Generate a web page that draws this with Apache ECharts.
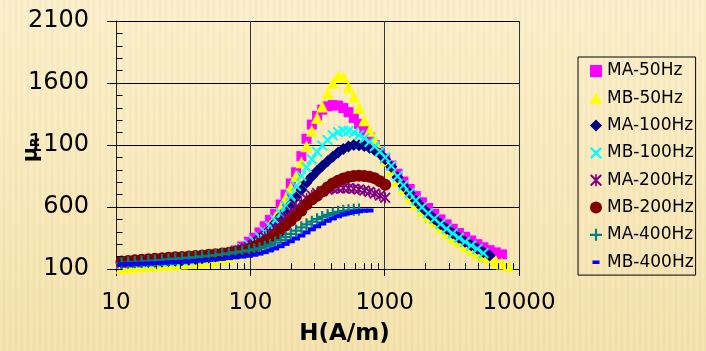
<!DOCTYPE html>
<html>
<head>
<meta charset="utf-8">
<title>Relative permeability vs field strength</title>
<script src="https://cdn.jsdelivr.net/npm/echarts@6.0.0/dist/echarts.min.js"></script>
<style>
  html, body { margin: 0; padding: 0; }
  #chart {
    width: 706px;
    height: 351px;
    background:
      repeating-linear-gradient(90deg,
        rgba(255,255,255,0.10) 0px, rgba(255,255,255,0.10) 2px,
        rgba(150,110,30,0.05) 4px, rgba(255,255,255,0.10) 6px),
      linear-gradient(180deg, #FCEFC9 0%, #F9E9BA 50%, #F4E1A9 100%);
  }
</style>
</head>
<body>
<div id="chart"></div>
<script>
// Field strength H (A/m) of each measuring point
const fieldH = [11, 12.3, 13.8, 15.5, 17.4, 19.5, 22, 24.6, 27.6, 31, 34.8, 39, 43.7, 49, 55, 61.7,
  69.2, 77.6, 87, 97.6, 107, 117, 128, 140, 153, 168, 183, 200, 219, 240, 262, 287, 314, 343,
  376, 411, 450, 492, 538, 589, 644, 705, 771, 843, 922, 1009, 1120, 1245, 1380, 1535, 1705,
  1895, 2105, 2340, 2600, 2890, 3210, 3570, 3965, 4405, 4895, 5440, 6045, 6720, 7465, 8300];

// Relative permeability per sample and frequency
const muMA50 = [130, 133, 137, 140, 143, 147, 151, 155, 160, 165, 170, 176, 183, 190, 200, 212,
  228, 250, 282, 320, 352, 395, 445, 495, 545, 620, 700, 790, 880, 1010, 1150, 1265, 1335, 1385,
  1412, 1422, 1418, 1398, 1365, 1318, 1270, 1215, 1160, 1100, 1045, 990, 935, 868, 805, 745, 688,
  638, 592, 545, 500, 460, 424, 390, 360, 330, 300, 275, 252, 234, 218];
const muMB50 = [110, 113, 117, 121, 124, 128, 132, 136, 140, 144, 148, 152, 157, 163, 171, 182,
  198, 218, 242, 270, 305, 345, 395, 450, 515, 590, 670, 755, 850, 960, 1090, 1215, 1320, 1410,
  1520, 1600, 1655, 1650, 1565, 1490, 1400, 1300, 1215, 1130, 1050, 975, 895, 810, 745, 680, 625,
  570, 525, 480, 435, 395, 355, 318, 285, 255, 228, 205, 185, 165, 145, 125];
const muMA100 = [148, 150, 152, 154, 156, 158, 161, 164, 167, 171, 175, 180, 186, 193, 201, 211,
  224, 240, 262, 285, 312, 343, 378, 420, 470, 525, 570, 620, 680, 740, 795, 845, 890, 930, 968,
  1005, 1040, 1068, 1088, 1100, 1098, 1092, 1078, 1058, 1030, 985, 925, 840, 770, 710, 650, 598,
  550, 506, 463, 425, 388, 352, 320, 292, 263, 235, 208];
const muMB100 = [145, 147, 150, 152, 155, 157, 160, 163, 167, 171, 176, 181, 187, 195, 204, 215,
  228, 246, 268, 295, 325, 360, 400, 445, 495, 550, 610, 690, 770, 850, 920, 985, 1045, 1095, 1140,
  1178, 1203, 1215, 1212, 1200, 1180, 1155, 1125, 1090, 1048, 1000, 932, 848, 776, 713, 652, 598,
  550, 505, 463, 424, 387, 352, 319, 290, 262, 228];
const muMA200 = [150, 153, 157, 161, 165, 169, 173, 177, 181, 185, 189, 194, 199, 205, 212, 220,
  230, 243, 258, 276, 300, 328, 360, 395, 433, 475, 518, 560, 600, 637, 668, 693, 713, 728, 740,
  748, 752, 754, 752, 748, 742, 733, 722, 708, 692, 675];
const muMB200 = [160, 165, 170, 175, 179, 183, 187, 191, 194, 197, 201, 205, 209, 214, 219, 225,
  232, 240, 250, 262, 280, 300, 320, 345, 375, 410, 450, 490, 530, 570, 620, 660, 690, 725, 760,
  790, 812, 830, 842, 850, 852, 850, 844, 832, 808, 780];
const muMA400 = [148, 152, 156, 160, 164, 168, 172, 177, 182, 187, 192, 197, 202, 207, 213, 219,
  226, 234, 242, 250, 258, 267, 280, 295, 313, 333, 357, 383, 410, 436, 460, 482, 502, 520, 536,
  550, 561, 569, 574, 577, 579];
const muMB400 = [138, 140, 142, 144, 146, 148, 150, 153, 156, 159, 162, 165, 169, 173, 177, 182,
  188, 194, 200, 207, 215, 224, 236, 250, 266, 284, 303, 324, 346, 370, 395, 420, 444, 467, 489,
  508, 525, 540, 551, 560, 566, 570, 572];

const seriesNames = ['MA-50Hz', 'MB-50Hz', 'MA-100Hz', 'MB-100Hz', 'MA-200Hz', 'MB-200Hz', 'MA-400Hz', 'MB-400Hz'];
const seriesValues = [muMA50, muMB50, muMA100, muMB100, muMA200, muMB200, muMA400, muMB400];

// Axis ticks
const xMajorTicks = [10, 100, 1000, 10000];
const xMinorTicks = [20, 30, 40, 50, 60, 70, 80, 90, 200, 300, 400, 500, 600, 700, 800, 900,
  2000, 3000, 4000, 5000, 6000, 7000, 8000, 9000];
const yTickLabels = [100, 600, 1100, 1600, 2100];

// Marker shapes (filled outlines so they stay crisp at small sizes)
const SYM_CROSS = 'path://M0,1.3L1.3,0L5,3.7L8.7,0L10,1.3L6.3,5L10,8.7L8.7,10L5,6.3L1.3,10L0,8.7L3.7,5Z';
const SYM_STAR = 'path://M0,1.2L1.2,0L5,3.8L8.8,0L10,1.2L6.2,5L10,8.8L8.8,10L5,6.2L1.2,10L0,8.8L3.8,5Z' +
  'M4.3,0L5.7,0L5.7,10L4.3,10Z';
const SYM_PLUS = 'path://M4.1,0L5.9,0L5.9,4.1L10,4.1L10,5.9L5.9,5.9L5.9,10L4.1,10L4.1,5.9L0,5.9L0,4.1L4.1,4.1Z';
const SYM_DASH_ICON = 'path://M0,0L0.01,0.01L0,0.01Z M12,12L11.99,11.99L12,11.99Z M2.5,4.5L9.5,4.5L9.5,8L2.5,8Z';

const styles = [
  { color: '#FF00FF', symbol: 'rect', size: 10 },
  { color: '#FFFF00', symbol: 'triangle', size: 12 },
  { color: '#000080', symbol: 'diamond', size: 12 },
  { color: '#00FFFF', symbol: SYM_CROSS, size: 11 },
  { color: '#800080', symbol: SYM_STAR, size: 11 },
  { color: '#800000', symbol: 'circle', size: 12 },
  { color: '#008080', symbol: SYM_PLUS, size: 12 },
  { color: '#0000FF', symbol: 'rect', size: [8, 4] }
];

const FONT = 'DejaVu Sans';

const series = seriesNames.map((name, i) => ({
  name: name,
  type: 'scatter',
  xAxisIndex: 0,
  yAxisIndex: 0,
  symbol: styles[i].symbol,
  symbolSize: styles[i].size,
  itemStyle: { color: styles[i].color, opacity: 1 },
  emphasis: { disabled: true },
  data: seriesValues[i].map((v, k) => [fieldH[k], v])
}));

const legendData = seriesNames.map((name, i) =>
  i === 7 ? { name: name, icon: SYM_DASH_ICON } : { name: name });

const chart = echarts.init(document.getElementById('chart'), null, { renderer: 'canvas' });
chart.setOption({
  animation: false,
  backgroundColor: 'transparent',
  grid: { left: 116, top: 21, width: 403, height: 248, containLabel: false, outerBoundsMode: 'none' },
  legend: {
    orient: 'vertical',
    left: 578,
    top: 57,
    padding: [5.5, 2, 4.5, 12],
    itemWidth: 12,
    itemHeight: 12,
    itemGap: 10.3,
    borderColor: '#000',
    borderWidth: 1,
    selectedMode: false,
    data: legendData,
    textStyle: { fontFamily: FONT, fontSize: 17, color: '#000', lineHeight: 17 }
  },
  xAxis: [
    {
      type: 'log',
      logBase: 10,
      min: xMajorTicks[0],
      max: xMajorTicks[xMajorTicks.length - 1],
      position: 'bottom',
      name: 'H(A/m)',
      nameLocation: 'middle',
      nameGap: 54,
      nameMoveOverlap: false,
      nameTextStyle: { fontFamily: FONT, fontSize: 23, fontWeight: 'bold', color: '#000', padding: [0, 0, 0, 54] },
      axisLine: { show: true, onZero: false, lineStyle: { color: '#000', width: 1 } },
      axisTick: { show: true, inside: false, length: 7, lineStyle: { color: '#000' } },
      axisLabel: {
        fontFamily: FONT, fontSize: 23, color: '#000', margin: 22.5,
        formatter: v => String(Math.round(v))
      },
      splitLine: { show: true, lineStyle: { color: '#333', width: 1 } }
    },
    {
      // minor ticks in exponent space, pointing into the plot
      type: 'value',
      gridIndex: 0,
      offset: 0,
      z: 3,
      min: Math.log10(xMajorTicks[0]),
      max: Math.log10(xMajorTicks[xMajorTicks.length - 1]),
      position: 'bottom',
      axisLine: { show: false, onZero: false },
      axisTick: {
        show: true, inside: true, length: 6,
        customValues: xMinorTicks.map(v => Math.log10(v)),
        lineStyle: { color: '#000', width: 1 }
      },
      axisLabel: { show: false },
      splitLine: { show: false }
    }
  ],
  yAxis: [
    {
      type: 'value',
      min: yTickLabels[0],
      max: yTickLabels[yTickLabels.length - 1],
      interval: 500,
      position: 'left',
      name: '{mu|μ}{sub|R}',
      nameLocation: 'middle',
      nameGap: 74,
      nameMoveOverlap: false,
      nameTextStyle: {
        color: '#000',
        padding: [0, 10, 0, 0],
        rich: {
          mu: { fontFamily: FONT, fontSize: 21, fontWeight: 'bold', color: '#000' },
          sub: { fontFamily: FONT, fontSize: 12, fontWeight: 'bold', color: '#000', verticalAlign: 'bottom' }
        }
      },
      axisLine: { show: true, onZero: false, lineStyle: { color: '#222', width: 1 } },
      axisTick: { show: true, inside: false, length: 9, lineStyle: { color: '#000' } },
      axisLabel: {
        fontFamily: FONT, fontSize: 24, color: '#000', margin: 27,
        formatter: v => String(v)
      },
      splitLine: { show: true, lineStyle: { color: '#000', width: 1 } }
    },
    {
      // minor ticks every 100, pointing into the plot
      type: 'value',
      z: 3,
      min: yTickLabels[0],
      max: yTickLabels[yTickLabels.length - 1],
      interval: 100,
      position: 'left',
      axisLine: { show: false, onZero: false },
      axisTick: { show: true, inside: true, length: 6.5, lineStyle: { color: '#000' } },
      axisLabel: { show: false },
      splitLine: { show: false }
    }
  ],
  series: series
});
</script>
</body>
</html>
